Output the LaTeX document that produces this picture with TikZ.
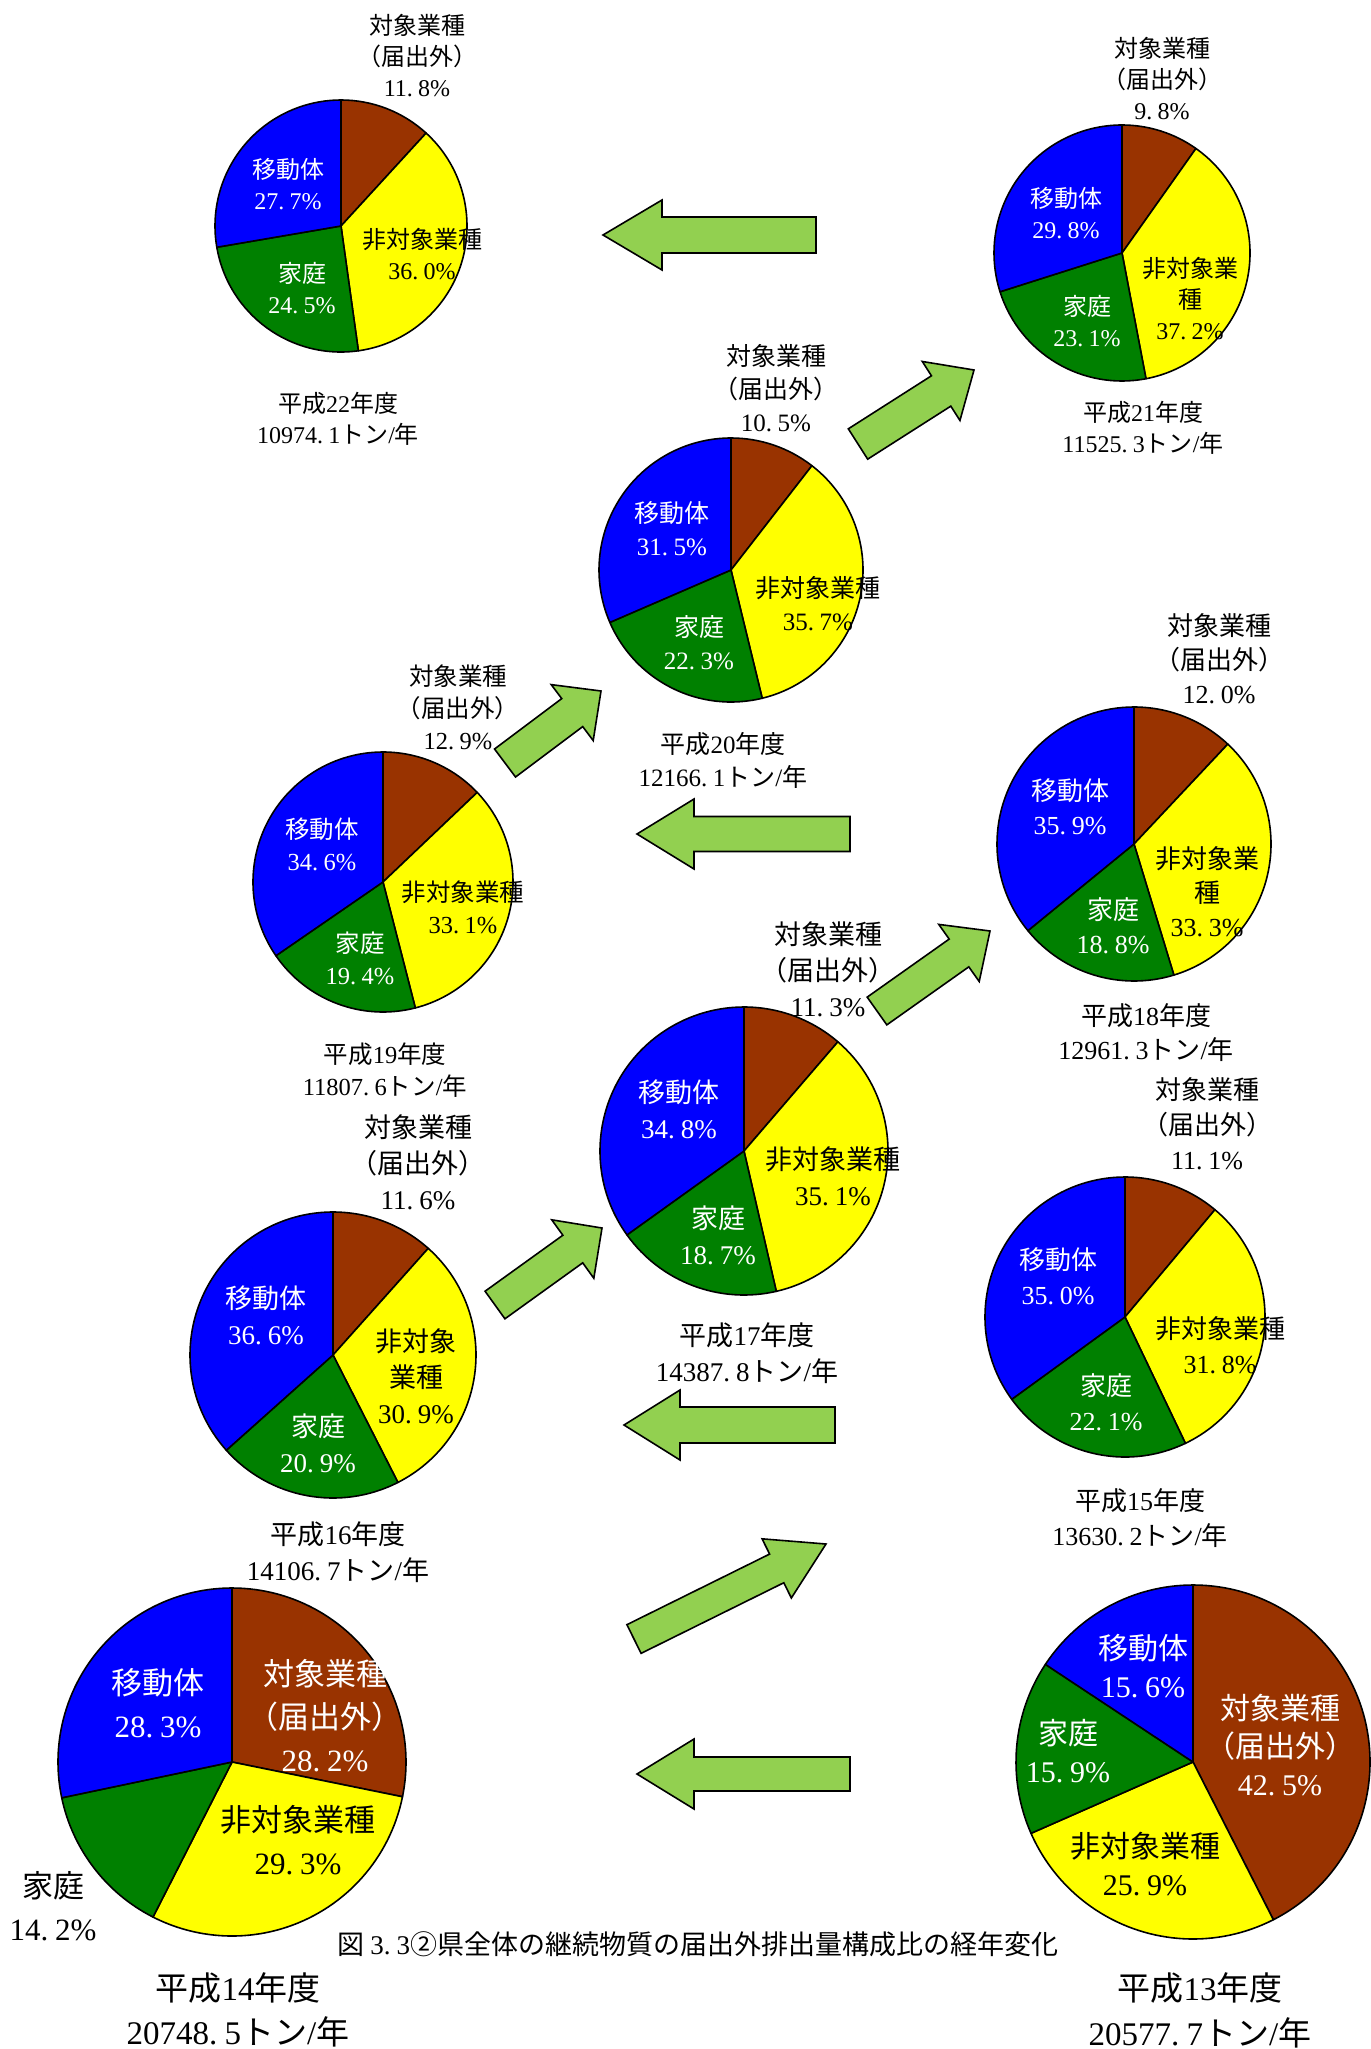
\documentclass[tikz,border=0pt]{standalone}
\usepackage{fontspec}
\setmainfont{Liberation Serif}
\newfontfamily\jp{Noto Sans CJK JP}
\usetikzlibrary{calc}
\definecolor{cbrown}{HTML}{993300}
\definecolor{cyellow}{HTML}{FFFF00}
\definecolor{cgreen}{HTML}{008000}
\definecolor{cblue}{HTML}{0000FF}
\definecolor{carrow}{HTML}{92D050}
\newcommand\J[1]{{\jp #1}}
\newcommand\dt{.\hspace{0.22em}}
\newcommand\pcx[2]{#1\dt#2\%}
\newcommand\fsz[2]{\fontsize{#1pt}{#2pt}\selectfont}
\tikzset{
  slice/.style={draw=black,line width=1.6pt,line join=round},
  garrow/.style={draw=black,fill=carrow,line width=1.6pt,line join=miter},
  lbl/.style={align=center,inner sep=0pt,text=black},
  wt/.style={text=white},
}
\newcommand\piechart[7]{%
  \coordinate (#1) at (#2,#3);
  \pgfmathsetmacro\angA{-90+3.6*#5}%
  \pgfmathsetmacro\angB{\angA+3.6*#6}%
  \pgfmathsetmacro\angC{\angB+3.6*#7}%
  \filldraw[slice,fill=cbrown] (#1) -- ++(-90:#4) arc[start angle=-90,end angle=\angA,radius=#4] -- cycle;
  \filldraw[slice,fill=cyellow] (#1) -- ++(\angA:#4) arc[start angle=\angA,end angle=\angB,radius=#4] -- cycle;
  \filldraw[slice,fill=cgreen] (#1) -- ++(\angB:#4) arc[start angle=\angB,end angle=\angC,radius=#4] -- cycle;
  \filldraw[slice,fill=cblue] (#1) -- ++(\angC:#4) arc[start angle=\angC,end angle=270,radius=#4] -- cycle;
}
\newcommand\blockarr[5]{% tail, tip, shaft half, head half, head length
  \coordinate (#1h) at ($(#2)!#5!(#1)$);
  \draw[garrow] ($(#1)!#3!90:(#2)$) -- ($(#1h)!#3!90:(#2)$) -- ($(#1h)!#4!90:(#2)$) -- (#2)
     -- ($(#1h)!#4!-90:(#2)$) -- ($(#1h)!#3!-90:(#2)$) -- ($(#1)!#3!-90:(#2)$) -- cycle;
}
\begin{document}
\begin{tikzpicture}[x=1pt,y=-1pt]
\fill[white] (0,0) rectangle (1370,2049);
\useasboundingbox (0,0) rectangle (1370,2049);

% ---------- arrows ----------
\coordinate (aAt) at (816,235);  \coordinate (aAp) at (603,235);
\blockarr{aAt}{aAp}{18pt}{35pt}{59pt}
\coordinate (aBt) at (858,444);  \coordinate (aBp) at (974,370);
\blockarr{aBt}{aBp}{18pt}{35pt}{39pt}
\coordinate (aCt) at (505,763);  \coordinate (aCp) at (601,691);
\blockarr{aCt}{aCp}{17.5pt}{35pt}{36pt}
\coordinate (aDt) at (850,834);  \coordinate (aDp) at (637,834);
\blockarr{aDt}{aDp}{17.5pt}{35pt}{57pt}
\coordinate (aEt) at (877,1011); \coordinate (aEp) at (990,931);
\blockarr{aEt}{aEp}{17pt}{35pt}{38pt}
\coordinate (aFt) at (495,1305); \coordinate (aFp) at (602,1228);
\blockarr{aFt}{aFp}{17pt}{36pt}{36pt}
\coordinate (aGt) at (835,1425); \coordinate (aGp) at (624,1425);
\blockarr{aGt}{aGp}{18pt}{35pt}{56pt}
\coordinate (aHt) at (634,1639); \coordinate (aHp) at (826,1544);
\blockarr{aHt}{aHp}{16pt}{33pt}{55pt}
\coordinate (aIt) at (850,1774); \coordinate (aIp) at (637,1774);
\blockarr{aIt}{aIp}{17pt}{35pt}{57pt}

% ---------- H22 ----------
\piechart{p22}{341}{226}{126}{11.8}{36.0}{24.5}
\begin{scope}[font=\fsz{24}{31}]
\node[lbl] (p22a) at (417,56) {\J{対象業種}\\\J{（届出外）}\\\pcx{11}{8}};
\node[lbl,wt] (p22b) at (288,184) {\J{移動体}\\\pcx{27}{7}};
\node[lbl,wt] (p22c) at (302,288) {\J{家庭}\\\pcx{24}{5}};
\node[lbl] (p22d) at (422,254) {\J{非対象業種}\\\pcx{36}{0}};
\node[lbl] (p22e) at (338,419) {\J{平成}22\J{年度}\\10974\dt1\J{トン}/\J{年}};
\end{scope}

% ---------- H21 ----------
\piechart{p21}{1122}{253}{128}{9.8}{37.2}{23.1}
\begin{scope}[font=\fsz{24}{31}]
\node[lbl] (p21a) at (1162,79) {\J{対象業種}\\\J{（届出外）}\\\pcx{9}{8}};
\node[lbl,wt] (p21b) at (1066,213) {\J{移動体}\\\pcx{29}{8}};
\node[lbl,wt] (p21c) at (1087,321) {\J{家庭}\\\pcx{23}{1}};
\node[lbl] (p21d) at (1190,299) {\J{非対象業}\\\J{種}\\\pcx{37}{2}};
\node[lbl] (p21e) at (1143,428) {\J{平成}21\J{年度}\\11525\dt3\J{トン}/\J{年}};
\end{scope}

% ---------- H20 ----------
\piechart{p20}{731}{570}{132}{10.5}{35.7}{22.3}
\begin{scope}[font=\fsz{25}{33}]
\node[lbl] (p20a) at (776,388) {\J{対象業種}\\\J{（届出外）}\\\pcx{10}{5}};
\node[lbl,wt] (p20b) at (672,529) {\J{移動体}\\\pcx{31}{5}};
\node[lbl,wt] (p20c) at (699,643) {\J{家庭}\\\pcx{22}{3}};
\node[lbl] (p20d) at (818,604) {\J{非対象業種}\\\pcx{35}{7}};
\node[lbl] (p20e) at (723,760) {\J{平成}20\J{年度}\\12166\dt1\J{トン}/\J{年}};
\end{scope}

% ---------- H19 ----------
\piechart{p19}{383}{882}{130}{12.9}{33.1}{19.4}
\begin{scope}[font=\fsz{24.5}{32}]
\node[lbl] (p19a) at (458,707) {\J{対象業種}\\\J{（届出外）}\\\pcx{12}{9}};
\node[lbl,wt] (p19b) at (322,844) {\J{移動体}\\\pcx{34}{6}};
\node[lbl,wt] (p19c) at (360,958) {\J{家庭}\\\pcx{19}{4}};
\node[lbl] (p19d) at (463,907) {\J{非対象業種}\\\pcx{33}{1}};
\node[lbl] (p19e) at (385,1070) {\J{平成}19\J{年度}\\11807\dt6\J{トン}/\J{年}};
\end{scope}

% ---------- H18 ----------
\piechart{p18}{1134}{844}{137}{12.0}{33.3}{18.8}
\begin{scope}[font=\fsz{26}{34}]
\node[lbl] (p18a) at (1219,659) {\J{対象業種}\\\J{（届出外）}\\\pcx{12}{0}};
\node[lbl,wt] (p18b) at (1070,807) {\J{移動体}\\\pcx{35}{9}};
\node[lbl,wt] (p18c) at (1113,926) {\J{家庭}\\\pcx{18}{8}};
\node[lbl] (p18d) at (1207,892) {\J{非対象業}\\\J{種}\\\pcx{33}{3}};
\node[lbl] (p18e) at (1146,1033) {\J{平成}18\J{年度}\\12961\dt3\J{トン}/\J{年}};
\end{scope}

% ---------- H17 ----------
\piechart{p17}{744}{1151}{144}{11.3}{35.1}{18.7}
\begin{scope}[font=\fsz{27}{36}]
\node[lbl] (p17a) at (828,969) {\J{対象業種}\\\J{（届出外）}\\\pcx{11}{3}};
\node[lbl,wt] (p17b) at (679,1109) {\J{移動体}\\\pcx{34}{8}};
\node[lbl,wt] (p17c) at (718,1235) {\J{家庭}\\\pcx{18}{7}};
\node[lbl] (p17d) at (833,1176) {\J{非対象業種}\\\pcx{35}{1}};
\node[lbl] (p17e) at (747,1353) {\J{平成}17\J{年度}\\14387\dt8\J{トン}/\J{年}};
\end{scope}

% ---------- H16 ----------
\piechart{p16}{333}{1355}{143}{11.6}{30.9}{20.9}
\begin{scope}[font=\fsz{27}{36}]
\node[lbl] (p16a) at (418,1162) {\J{対象業種}\\\J{（届出外）}\\\pcx{11}{6}};
\node[lbl,wt] (p16b) at (266,1315) {\J{移動体}\\\pcx{36}{6}};
\node[lbl,wt] (p16c) at (318,1443) {\J{家庭}\\\pcx{20}{9}};
\node[lbl] (p16d) at (416,1376) {\J{非対象}\\\J{業種}\\\pcx{30}{9}};
\node[lbl] (p16e) at (338,1552) {\J{平成}16\J{年度}\\14106\dt7\J{トン}/\J{年}};
\end{scope}

% ---------- H15 ----------
\piechart{p15}{1125}{1317}{140}{11.1}{31.8}{22.1}
\begin{scope}[font=\fsz{26}{35}]
\node[lbl] (p15a) at (1207,1124) {\J{対象業種}\\\J{（届出外）}\\\pcx{11}{1}};
\node[lbl,wt] (p15b) at (1058,1276) {\J{移動体}\\\pcx{35}{0}};
\node[lbl,wt] (p15c) at (1106,1402) {\J{家庭}\\\pcx{22}{1}};
\node[lbl] (p15d) at (1220,1345) {\J{非対象業種}\\\pcx{31}{8}};
\node[lbl] (p15e) at (1140,1518) {\J{平成}15\J{年度}\\13630\dt2\J{トン}/\J{年}};
\end{scope}

% ---------- H14 ----------
\piechart{p14}{232}{1762}{174}{28.2}{29.3}{14.2}
\begin{scope}[font=\fsz{31}{43}]
\node[lbl,wt] (p14a) at (325,1716) {\J{対象業種}\\\J{（届出外）}\\\pcx{28}{2}};
\node[lbl,wt] (p14b) at (158,1703) {\J{移動体}\\\pcx{28}{3}};
\node[lbl] (p14c) at (53,1906) {\J{家庭}\\\pcx{14}{2}};
\node[lbl] (p14d) at (298,1840) {\J{非対象業種}\\\pcx{29}{3}};
\end{scope}
\node[lbl,font=\fsz{33}{44}] (p14e) at (238,2010) {\J{平成}14\J{年度}\\20748\dt5\J{トン}/\J{年}};

% ---------- H13 ----------
\piechart{p13}{1193}{1762}{177}{42.5}{25.9}{15.9}
\begin{scope}[font=\fsz{30}{38}]
\node[lbl,wt] (p13a) at (1280,1745) {\J{対象業種}\\\J{（届出外）}\\\pcx{42}{5}};
\node[lbl,wt] (p13b) at (1143,1666) {\J{移動体}\\\pcx{15}{6}};
\node[lbl,wt] (p13c) at (1068,1751) {\J{家庭}\\\pcx{15}{9}};
\node[lbl] (p13d) at (1145,1864) {\J{非対象業種}\\\pcx{25}{9}};
\end{scope}
\node[lbl,font=\fsz{33}{45}] (p13e) at (1200,2010) {\J{平成}13\J{年度}\\20577\dt7\J{トン}/\J{年}};

% ---------- caption ----------
\node[lbl,font=\fsz{27}{32}] (cap) at (698,1944) {\J{図}\hspace{0.2em}3\dt3\J{②県全体の継続物質の届出外排出量構成比の経年変化}};
\end{tikzpicture}
\end{document}
